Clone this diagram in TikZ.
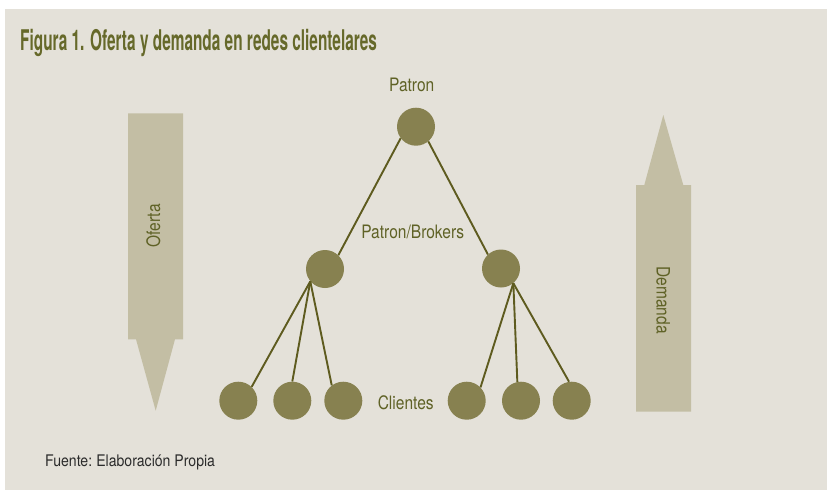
\documentclass[tikz,border=0pt]{standalone}
\usepackage{fontspec}
\setmainfont{TeX Gyre Heros}
\newfontfamily\titlefont[FakeStretch=0.54]{TeX Gyre Heros}
\newfontfamily\labfont[FakeStretch=0.84]{TeX Gyre Heros}
\newfontfamily\srcfont[FakeStretch=0.88]{TeX Gyre Heros}
\definecolor{bgc}{HTML}{E4E1D9}
\definecolor{arrowc}{HTML}{C3BEA4}
\definecolor{dotc}{HTML}{878150}
\definecolor{linec}{HTML}{5E5B1F}
\definecolor{olivetext}{HTML}{5F6226}
\definecolor{titlec}{HTML}{66692A}
\definecolor{srcc}{HTML}{2B2B2B}
\tikzset{
  dot/.style={circle,fill=dotc,minimum size=38pt,inner sep=0pt},
  link/.style={draw=linec,line width=1.9pt},
  lab/.style={text=olivetext,font=\labfont\fontsize{18.5}{20}\selectfont,inner sep=0pt},
  bigarrow/.style={fill=arrowc}
}
\begin{document}
\begin{tikzpicture}[x=1pt,y=-1pt]
\useasboundingbox (0,0) rectangle (827,490);
\fill[white] (0,0) rectangle (827,490);
\fill[bgc] (5,9) rectangle (827,490);
% title
\node[anchor=base west,inner sep=0pt,text=titlec,font=\titlefont\bfseries\fontsize{28.5}{30}\selectfont] (title) at (20,50.5) {Figura 1. Oferta y demanda en redes clientelares};
% arrows
\fill[bigarrow] (128,113.3) -- (183,113.3) -- (183,339.3) -- (175,339.3) -- (155.7,410.7) -- (136,339.3) -- (128,339.3) -- cycle;
\fill[bigarrow] (636,411.7) -- (691,411.7) -- (691,185) -- (683.3,185) -- (663.3,115) -- (644.3,185) -- (636,185) -- cycle;
\node[lab,rotate=90] (oferta) at (153.3,226) {Oferta};
\node[lab,rotate=-90] (demanda) at (663.3,300) {Demanda};
% tree
\node[dot] (p) at (416,126.7) {};
\node[dot] (bl) at (325,269) {};
\node[dot] (br) at (501,268.5) {};
\node[dot] (c1) at (238.3,400.7) {};
\node[dot] (c2) at (292.3,400.7) {};
\node[dot] (c3) at (343.3,400.7) {};
\node[dot] (c4) at (466.7,400.7) {};
\node[dot] (c5) at (521,400.7) {};
\node[dot] (c6) at (571.7,400.7) {};
\draw[link] (p.217) -- (bl.46);
\draw[link] (p.-50) -- (br.133);
\draw[link] (bl.220) -- (c1.46);
\draw[link] (bl.220) -- (c2.90);
\draw[link] (bl.220) -- (c3.127);
\draw[link] (br.-50) -- (c4.44);
\draw[link] (br.-50) -- (c5.101);
\draw[link] (br.-50) -- (c6.98);
% labels
\node[lab,anchor=base] (lpatron) at (411.7,91.7) {Patron};
\node[lab,anchor=base] (lbrokers) at (412.7,238.3) {Patron/Brokers};
\node[lab,anchor=base] (lclientes) at (405.7,409.3) {Clientes};
\node[anchor=base west,inner sep=0pt,text=srcc,font=\srcfont\fontsize{16}{18}\selectfont] (fuente) at (45,466.7) {Fuente:\hspace{-1.2pt} Elaboración Propia};
\end{tikzpicture}
\end{document}
